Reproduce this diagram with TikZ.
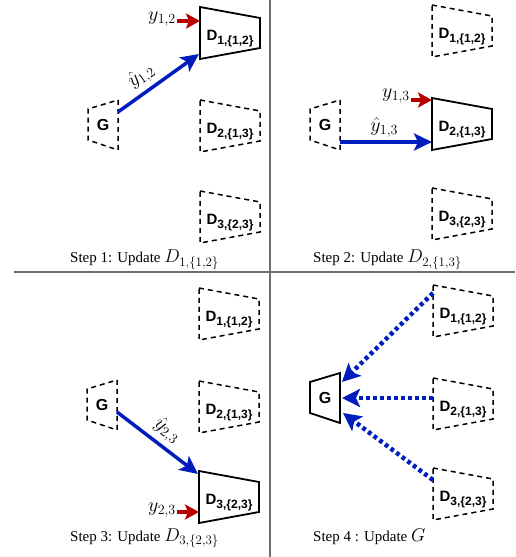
\RequirePackage{fix-cm}
\documentclass[tikz,border=0pt]{standalone}
\usepackage{fontspec}
\setmainfont{Liberation Serif}
\setsansfont{Liberation Sans}
\usetikzlibrary{arrows.meta,calc}
\definecolor{ablue}{RGB}{0,30,190}
\definecolor{ared}{RGB}{185,0,0}
\definecolor{divgray}{RGB}{110,110,110}
\newcommand\dsub[1]{\raisebox{-4pt}{\fontsize{12}{12}\selectfont\sffamily\bfseries #1}}
\newcommand\capmath[1]{{\fontsize{18.5}{20}\selectfont$#1$}}
\tikzset{
  every node/.style={font=\fontsize{15}{18}\selectfont, inner sep=1pt},
  dtext/.style={font=\fontsize{15}{18}\selectfont\sffamily\bfseries, inner sep=0pt},
  gtext/.style={font=\fontsize{16}{18}\selectfont\sffamily\bfseries, inner sep=0pt},
  trapsolid/.style={draw=black, line width=1.8pt, line join=miter},
  trapdash/.style={draw=black, line width=1.5pt, dash pattern=on 5pt off 4pt},
  bluearrow/.style={draw=ablue, line width=3.5pt, -{Stealth[length=18pt,width=17pt,inset=4pt]}},
  redarrow/.style={draw=ared, line width=3.5pt, -{Stealth[length=14pt,width=15pt,inset=3pt]}},
  dotarrow/.style={draw=ablue, line width=4.5pt, dash pattern=on 3.8pt off 3.2pt, -{Stealth[length=18pt,width=18pt,inset=4pt]}},
  mlab/.style={font=\fontsize{20}{22}\selectfont, inner sep=1pt},
  divider/.style={draw=divgray, line width=1.3pt},
}
% D unit: name, x, y (image coords), style, subscript
\newcommand\Dunit[5]{%
  \coordinate (#1) at (#2,557-#3);
  \node[dtext, anchor=base] (#1-t) at ([yshift=-7.7pt]#1) {D\dsub{#5}};
  \draw[#4] ([shift={(-30,26)}]#1) -- ++(60,-11) -- ++(0,-30) -- ++(-60,-11) -- cycle;}
% G unit: name, x, y (image coords), style
\newcommand\Gunit[4]{%
  \coordinate (#1) at (#2,557-#3);
  \node[gtext] (#1-t) at (#1) {G};
  \draw[#4] ([shift={(15,25)}]#1) -- ++(0,-50) -- ++(-30,10) -- ++(0,31) -- cycle;}
\begin{document}
\begin{tikzpicture}[x=1pt,y=1pt]
\useasboundingbox (0,0) rectangle (515,557);
% dividers
\coordinate (vtop) at (270,557);
\coordinate (vbot) at (270,0);
\coordinate (hl) at (14,285);
\coordinate (hr) at (515,285);
\draw[divider] (vtop) -- (vbot);
\draw[divider] (hl) -- (hr);

% ---------- Step 1 ----------
\Gunit{q1g}{103}{125}{trapdash}
\Dunit{q1a}{230}{33}{trapsolid}{1,\{1,2\}}
\Dunit{q1b}{230}{126}{trapdash}{2,\{1,3\}}
\Dunit{q1c}{230}{217}{trapdash}{3,\{2,3\}}
\draw[bluearrow] ([shift={(15,13)}]q1g) -- node[mlab, sloped, above=3pt, pos=0.4] (q1h) {$\hat{y}_{1,2}$} ([shift={(-31,-21)}]q1a);
\coordinate (q1tip) at ([shift={(-30,12)}]q1a);
\node[mlab, anchor=east] (q1y) at (177,557-19) {$y_{1,2}$};
\draw[redarrow] (q1y.east |- q1tip) -- (q1tip);
\node[anchor=base west] (c1) at (69,557-263) {Step 1: Update \capmath{D_{1,\{1,2\}}}};

% ---------- Step 2 ----------
\Gunit{q2g}{325}{125}{trapdash}
\Dunit{q2a}{462}{31}{trapdash}{1,\{1,2\}}
\Dunit{q2b}{462}{124}{trapsolid}{2,\{1,3\}}
\Dunit{q2c}{462}{214}{trapdash}{3,\{2,3\}}
\draw[bluearrow] ([shift={(15,-17)}]q2g) -- node[mlab, above=2pt, pos=0.48] (q2h) {$\hat{y}_{1,3}$} ([shift={(-30,-18)}]q2b);
\coordinate (q2tip) at ([shift={(-30,24)}]q2b);
\node[mlab, anchor=east] (q2y) at (411,557-96) {$y_{1,3}$};
\draw[redarrow] (q2y.east |- q2tip) -- (q2tip);
\node[anchor=base west] (c2) at (312,557-263) {Step 2: Update \capmath{D_{2,\{1,3\}}}};

% ---------- Step 3 ----------
\Gunit{q3g}{102}{405}{trapdash}
\Dunit{q3a}{229}{314}{trapdash}{1,\{1,2\}}
\Dunit{q3b}{229}{407}{trapdash}{2,\{1,3\}}
\Dunit{q3c}{229}{497}{trapsolid}{3,\{2,3\}}
\draw[bluearrow] ([shift={(15,-7)}]q3g) -- node[mlab, sloped, above=3pt, pos=0.5] (q3h) {$\hat{y}_{2,3}$} ([shift={(-31,23)}]q3c);
\coordinate (q3tip) at ([shift={(-30,-15)}]q3c);
\node[mlab, anchor=east] (q3y) at (177,557-510) {$y_{2,3}$};
\draw[redarrow] (q3y.east |- q3tip) -- (q3tip);
\node[anchor=base west] (c3) at (69,557-541.5) {Step 3: Update \capmath{D_{3,\{2,3\}}}};

% ---------- Step 4 ----------
\Gunit{q4g}{325}{398}{trapsolid}
\Dunit{q4a}{463}{311}{trapdash}{1,\{1,2\}}
\Dunit{q4b}{463}{404}{trapdash}{2,\{1,3\}}
\Dunit{q4c}{463}{494}{trapdash}{3,\{2,3\}}
\draw[dotarrow] ([shift={(-30,18)}]q4a) -- ([shift={(17,16)}]q4g);
\draw[dotarrow] ([shift={(-30,6)}]q4b) -- ([shift={(17,0)}]q4g);
\draw[dotarrow] ([shift={(-30,14)}]q4c) -- ([shift={(18,-15)}]q4g);
\node[anchor=base west] (c4) at (312,557-542) {Step 4 : Update \capmath{G}};
\end{tikzpicture}
\end{document}
